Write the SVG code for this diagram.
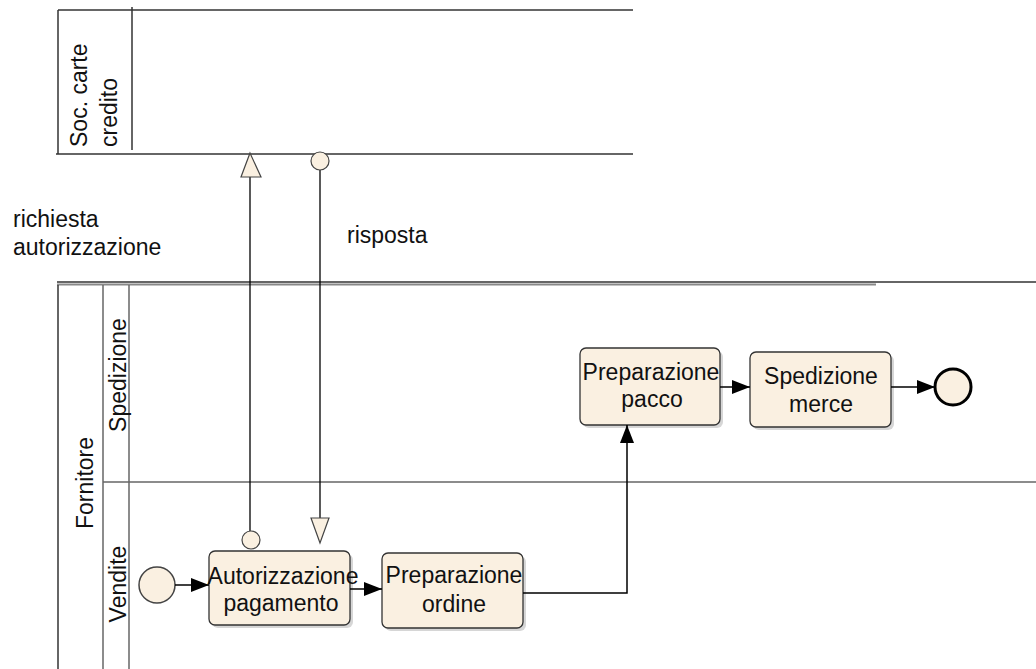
<svg xmlns="http://www.w3.org/2000/svg" width="1036" height="669" viewBox="0 0 1036 669">
<style>
text{font-family:"Liberation Sans",Arial,sans-serif;font-size:23px;fill:#111}
.pool{stroke:#333;stroke-width:1.5;fill:none}
.lane{stroke:#666;stroke-width:1.5;fill:none}
.task{fill:#faf0e1;stroke:#333;stroke-width:1.3}
.shadow{fill:#bbb;opacity:0.6}
.flow{stroke:#000;stroke-width:1.5;fill:none}
.msg{stroke:#000;stroke-width:1.3;fill:none}
.mk{fill:#faf0e1;stroke:#444;stroke-width:1.2}
</style>
<defs>
<marker id="arr" markerWidth="18" markerHeight="14" refX="18" refY="7" orient="auto" markerUnits="userSpaceOnUse">
<path d="M0,0 L18,7 L0,14 Z" fill="#000"/>
</marker>
</defs>

<g id="pool-soc">
<line class="pool" x1="58" y1="10" x2="633" y2="10"/>
<line class="pool" x1="56" y1="154" x2="633" y2="154"/>
<line class="pool" x1="58" y1="10" x2="58" y2="154"/>
<line class="pool" x1="132" y1="7" x2="132" y2="150"/>
<text transform="translate(87,147) rotate(-90)">Soc. carte</text>
<text transform="translate(117,147) rotate(-90)">credito</text>
</g>

<g id="pool-fornitore">
<line class="pool" x1="57" y1="282" x2="1036" y2="282"/>
<line x1="57" y1="284.5" x2="876" y2="284.5" stroke="#888" stroke-width="2"/>
<line class="pool" x1="58" y1="285" x2="58" y2="669"/>
<line class="lane" x1="103" y1="285" x2="103" y2="669"/>
<line class="lane" x1="129" y1="285" x2="129" y2="669"/>
<line class="lane" x1="103" y1="482" x2="1036" y2="482"/>
<text transform="translate(93,483) rotate(-90)" text-anchor="middle">Fornitore</text>
</g>
<g id="lane-spedizione">
<text transform="translate(126,375) rotate(-90)" text-anchor="middle">Spedizione</text>
</g>
<g id="lane-vendite">
<text transform="translate(126,584) rotate(-90)" text-anchor="middle">Vendite</text>
</g>

<g id="start">
<circle cx="157" cy="585" r="18" fill="#faf0e1" stroke="#444" stroke-width="1.5"/>
</g>

<g id="task-autorizzazione">
<rect class="shadow" x="212" y="554" width="141" height="74" rx="6"/>
<rect class="task" x="209" y="551" width="141" height="74" rx="6"/>
<text x="283" y="584" text-anchor="middle">Autorizzazione</text>
<text x="281" y="611" text-anchor="middle">pagamento</text>
</g>

<g id="task-prep-ordine">
<rect class="shadow" x="385" y="556" width="141" height="75" rx="6"/>
<rect class="task" x="382" y="553" width="141" height="75" rx="6"/>
<text x="454" y="583" text-anchor="middle">Preparazione</text>
<text x="454" y="612" text-anchor="middle">ordine</text>
</g>

<g id="task-prep-pacco">
<rect class="shadow" x="583" y="351" width="140" height="77" rx="6"/>
<rect class="task" x="580" y="348" width="140" height="77" rx="6"/>
<text x="651" y="380" text-anchor="middle">Preparazione</text>
<text x="652" y="407" text-anchor="middle">pacco</text>
</g>

<g id="task-spedizione">
<rect class="shadow" x="753" y="355" width="141" height="75" rx="6"/>
<rect class="task" x="750" y="352" width="141" height="75" rx="6"/>
<text x="821" y="384" text-anchor="middle">Spedizione</text>
<text x="821" y="412" text-anchor="middle">merce</text>
</g>

<g id="end">
<circle cx="953" cy="387" r="18" fill="#faf0e1" stroke="#000" stroke-width="3"/>
</g>

<g id="connectors">
<line class="flow" x1="175" y1="585" x2="209" y2="585" marker-end="url(#arr)"/>
<line class="flow" x1="350" y1="589" x2="382" y2="589" marker-end="url(#arr)"/>
<polyline class="flow" points="523,593 627,593 627,425" marker-end="url(#arr)"/>
<line class="flow" x1="720" y1="387" x2="750" y2="387" marker-end="url(#arr)"/>
<line class="flow" x1="891" y1="387" x2="935" y2="387" marker-end="url(#arr)"/>

<g id="msg-richiesta">
<line class="msg" x1="250" y1="531" x2="250" y2="177"/>
<circle class="mk" cx="251" cy="540" r="9"/>
<polygon class="mk" points="250,153 241,177 261,177"/>
</g>
<g id="msg-risposta">
<line class="msg" x1="320" y1="170" x2="320" y2="518"/>
<circle class="mk" cx="320" cy="161" r="9"/>
<polygon class="mk" points="311,518 329,518 320,543"/>
</g>
</g>

<g id="labels">
<text x="13" y="227">richiesta</text>
<text x="13" y="255">autorizzazione</text>
<text x="347" y="243">risposta</text>
</g>
</svg>
